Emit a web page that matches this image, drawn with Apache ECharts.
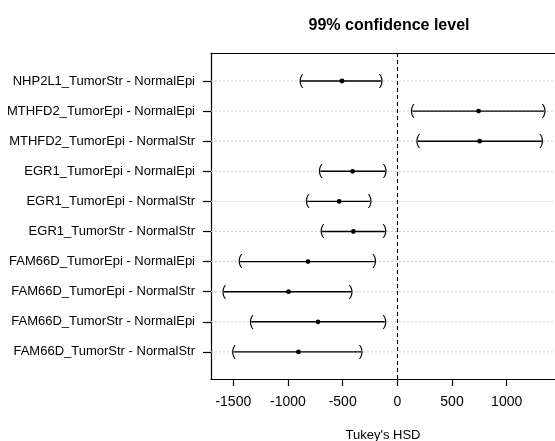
<!DOCTYPE html>
<html>
<head>
<meta charset="utf-8">
<style>
    html, body { margin: 0; padding: 0; background: #fff; }
    #tukeyChart { width: 555px; height: 441px; }
</style>
<script src="https://cdn.jsdelivr.net/npm/echarts@6/dist/echarts.min.js"></script>
</head>
<body>
<div id="tukeyChart"></div>
<script>
    // comparisons, top to bottom
    var comparisons = [
        'NHP2L1_TumorStr - NormalEpi',
        'MTHFD2_TumorEpi - NormalEpi',
        'MTHFD2_TumorEpi - NormalStr',
        'EGR1_TumorEpi - NormalEpi',
        'EGR1_TumorEpi - NormalStr',
        'EGR1_TumorStr - NormalStr',
        'FAM66D_TumorEpi - NormalEpi',
        'FAM66D_TumorEpi - NormalStr',
        'FAM66D_TumorStr - NormalEpi',
        'FAM66D_TumorStr - NormalStr'
    ];
    var diffs  = [-506, 743, 753, -409, -532, -402, -817, -995, -726, -904];
    var lowers = [-881, 138, 187, -703, -823, -688, -1438, -1587, -1335, -1497];
    var uppers = [-149, 1342, 1320, -111, -250, -115, -208, -422, -115, -331];
    var xTicks = [-1500, -1000, -500, 0, 500, 1000];

    var FONT = '"Liberation Sans", Arial, sans-serif';
    var n = comparisons.length;

    // rows: [lwr, diff, upr, y], first comparison on top
    var rows = comparisons.map(function (c, i) {
        return [lowers[i], diffs[i], uppers[i], n - i];
    });
    var yTicks = rows.map(function (r) { return r[3]; });

    var boxLine = { show: true, onZero: false, lineStyle: { color: '#000', width: 1.2 } };

    var chart = echarts.init(document.getElementById('tukeyChart'));
    var option = {
        backgroundColor: '#fff',
        animation: false,
        title: {
            text: '99% confidence level',
            left: 384,
            top: 13,
            textAlign: 'center',
            textStyle: { fontFamily: FONT, fontSize: 16, fontWeight: 'bold', color: '#000' }
        },
        // plot box runs past the right edge of the picture (cropped figure)
        grid: {
            left: 211, top: 53, bottom: 62, right: 0,
            show: false,
            outerBoundsMode: 'none'
        },
        xAxis: [{
            type: 'value',
            position: 'bottom',
            min: -1704,
            max: 1442,
            name: "Tukey's HSD",
            nameLocation: 'middle',
            nameGap: 50,
            nameTextStyle: { fontFamily: FONT, fontSize: 13, color: '#000' },
            axisLine: boxLine,
            axisTick: { show: true, length: 7, inside: false, customValues: xTicks,
                lineStyle: { color: '#000', width: 1.2 } },
            axisLabel: { customValues: xTicks, margin: 16,
                fontFamily: FONT, fontSize: 14, color: '#000',
                formatter: function (v) { return String(v); } },
            splitLine: { show: false }
        }, {
            // top edge of the box only
            type: 'value',
            position: 'top',
            min: -1704,
            max: 1442,
            axisLine: boxLine,
            axisTick: { show: false },
            axisLabel: { show: false },
            splitLine: { show: false }
        }],
        yAxis: {
            type: 'value',
            min: 0.1,
            max: 10.93,
            axisLine: boxLine,
            axisTick: { show: true, length: 8, inside: false, customValues: yTicks,
                lineStyle: { color: '#000', width: 1.2 } },
            axisLabel: {
                customValues: yTicks,
                margin: 16,
                fontFamily: FONT, fontSize: 13, color: '#000',
                formatter: function (v) { return comparisons[n - Math.round(v)]; }
            },
            splitLine: { show: false }
        },
        series: [{
            type: 'custom',
            data: rows,
            clip: false,
            renderItem: function (params, api) {
                var y = api.value(3);
                var lo = api.coord([api.value(0), y]);
                var mid = api.coord([api.value(1), y]);
                var hi = api.coord([api.value(2), y]);
                var cs = params.coordSys;
                return {
                    type: 'group',
                    children: [
                        // light row guide
                        { type: 'line', z2: 0,
                          shape: { x1: cs.x, y1: lo[1], x2: cs.x + cs.width, y2: lo[1] },
                          style: { stroke: '#cfcfcf', lineWidth: 1, lineDash: [2, 2] } },
                        { type: 'line', z2: 5,
                          shape: { x1: lo[0], y1: lo[1], x2: hi[0], y2: hi[1] },
                          style: { stroke: '#000', lineWidth: 1.4 } },
                        { type: 'text', z2: 6, x: lo[0], y: lo[1],
                          style: { text: '(', fontSize: 14, fontFamily: FONT, fill: '#000',
                                   align: 'center', verticalAlign: 'middle' } },
                        { type: 'text', z2: 6, x: hi[0], y: hi[1],
                          style: { text: ')', fontSize: 14, fontFamily: FONT, fill: '#000',
                                   align: 'center', verticalAlign: 'middle' } },
                        { type: 'circle', z2: 7,
                          shape: { cx: mid[0], cy: mid[1], r: 2.4 },
                          style: { fill: '#000' } }
                    ]
                };
            },
            markLine: {
                silent: true,
                symbol: 'none',
                label: { show: false },
                lineStyle: { color: '#000', type: [4, 3], width: 1.1 },
                data: [{ xAxis: 0 }]
            }
        }]
    };
    chart.setOption(option);
</script>
</body>
</html>
